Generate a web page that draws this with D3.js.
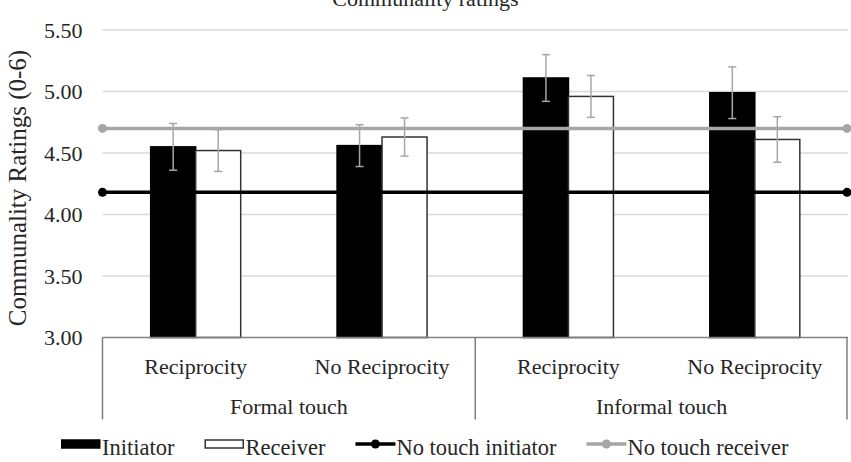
<!DOCTYPE html>
<html>
<head>
<meta charset="utf-8">
<script src="https://cdn.jsdelivr.net/npm/d3@7"></script>
<style>
  body { margin: 0; background: #fff; }
  text { font-family: "Liberation Serif", "Times New Roman", serif; fill: #262626; }
</style>
</head>
<body>
<div id="chart"></div>
<script>
// data
const subCategories = ["Reciprocity", "No Reciprocity", "Reciprocity", "No Reciprocity"];
const groups = ["Formal touch", "Informal touch"];
const initiator = [4.55, 4.56, 5.11, 4.99];
const receiver = [4.52, 4.63, 4.96, 4.61];
const initiatorErr = [0.19, 0.17, 0.19, 0.21];
const receiverErr = [0.17, 0.155, 0.17, 0.185];
const noTouchInitiator = 4.18;
const noTouchReceiver = 4.70;
const yTicks = [3.0, 3.5, 4.0, 4.5, 5.0, 5.5];
const seriesNames = ["Initiator", "Receiver", "No touch initiator", "No touch receiver"];

const width = 851, height = 462;
const margin = {top: 30, right: 3, bottom: 124.5, left: 102.5};

const svg = d3.select("#chart").append("svg")
    .attr("width", width)
    .attr("height", height);

const plotW = width - margin.left - margin.right;
const plotH = height - margin.top - margin.bottom;

const g = svg.append("g")
    .attr("transform", "translate(" + margin.left + "," + margin.top + ")");

// scales
const x = d3.scaleBand()
    .domain(d3.range(subCategories.length))
    .range([0, plotW]);

const xInner = d3.scaleBand()
    .domain(["Initiator", "Receiver"])
    .range([0, 90]);
const innerOffset = (x.bandwidth() - 90) / 2;

const y = d3.scaleLinear()
    .domain([3, 5.5])
    .range([plotH, 0]);

// gridlines
g.append("g")
    .selectAll("line")
    .data(yTicks.filter(d => d > 3))
    .join("line")
    .attr("x1", 0)
    .attr("x2", plotW)
    .attr("y1", d => y(d))
    .attr("y2", d => y(d))
    .attr("stroke", "#d9d9d9")
    .attr("stroke-width", 1.3);

// y axis labels
const yAxis = d3.axisLeft(y)
    .tickValues(yTicks)
    .tickFormat(d3.format(".2f"))
    .tickSize(0)
    .tickPadding(20);
g.append("g")
    .call(yAxis)
    .call(a => a.select(".domain").remove())
    .selectAll("text")
    .attr("font-size", 22)
    .attr("font-family", "Liberation Serif")
    .attr("fill", "#262626");

// bars
const barData = [];
subCategories.forEach((c, i) => {
    barData.push({i: i, s: "Initiator", v: initiator[i], e: initiatorErr[i]});
    barData.push({i: i, s: "Receiver", v: receiver[i], e: receiverErr[i]});
});

g.append("g")
    .selectAll("rect")
    .data(barData)
    .join("rect")
    .attr("x", d => x(d.i) + innerOffset + xInner(d.s))
    .attr("width", xInner.bandwidth())
    .attr("y", d => y(d.v))
    .attr("height", d => y(3) - y(d.v))
    .attr("fill", d => d.s === "Initiator" ? "#000" : "#fff")
    .attr("stroke", d => d.s === "Initiator" ? "#000" : "#333")
    .attr("stroke-width", 1.5);

// no-touch reference lines
const xLine = d3.scaleLinear().domain([0, 1]).range([0, plotW - 1]);
const refLines = [
    {name: "No touch initiator", v: noTouchInitiator, color: "#000"},
    {name: "No touch receiver", v: noTouchReceiver, color: "#a6a6a6"}
];
refLines.forEach(r => {
    const pts = [[0, r.v], [1, r.v]];
    g.append("path")
        .datum(pts)
        .attr("fill", "none")
        .attr("stroke", r.color)
        .attr("stroke-width", 3.5)
        .attr("d", d3.line().x(d => xLine(d[0])).y(d => y(d[1])));
    g.append("g")
        .selectAll("circle")
        .data(pts)
        .join("circle")
        .attr("cx", d => xLine(d[0]))
        .attr("cy", d => y(d[1]))
        .attr("r", 4.5)
        .attr("fill", r.color);
});

// error bars
const eb = g.append("g")
    .selectAll("g")
    .data(barData)
    .join("g")
    .attr("transform", d => "translate(" + (x(d.i) + innerOffset + xInner(d.s) + xInner.bandwidth() / 2) + ",0)");
eb.append("line")
    .attr("y1", d => y(d.v + d.e))
    .attr("y2", d => y(d.v - d.e))
    .attr("stroke", "#a6a6a6")
    .attr("stroke-width", 1.5);
eb.selectAll(".cap")
    .data(d => [d.v + d.e, d.v - d.e])
    .join("line")
    .attr("class", "cap")
    .attr("x1", -4)
    .attr("x2", 4)
    .attr("y1", d => y(d))
    .attr("y2", d => y(d))
    .attr("stroke", "#a6a6a6")
    .attr("stroke-width", 1.5);

// category axis (two-level)
const axisG = g.append("g").attr("transform", "translate(0," + plotH + ")");
axisG.append("line")
    .attr("x1", 0).attr("x2", plotW)
    .attr("stroke", "#808080").attr("stroke-width", 1.5);

const groupW = plotW / groups.length;
axisG.selectAll(".sep")
    .data(d3.range(groups.length + 1))
    .join("line")
    .attr("class", "sep")
    .attr("x1", d => Math.min(d * groupW, plotW - 1))
    .attr("x2", d => Math.min(d * groupW, plotW - 1))
    .attr("y1", 0)
    .attr("y2", 82)
    .attr("stroke", "#808080")
    .attr("stroke-width", 1.5);

axisG.selectAll(".sub")
    .data(subCategories)
    .join("text")
    .attr("class", "sub")
    .attr("x", (d, i) => x(i) + x.bandwidth() / 2)
    .attr("y", 36)
    .attr("text-anchor", "middle")
    .attr("font-size", 22)
    .text(d => d);

axisG.selectAll(".grp")
    .data(groups)
    .join("text")
    .attr("class", "grp")
    .attr("x", (d, i) => (i + 0.5) * groupW)
    .attr("y", 76)
    .attr("text-anchor", "middle")
    .attr("font-size", 22)
    .text(d => d);

// y axis title
svg.append("text")
    .attr("transform", "translate(26,188) rotate(-90)")
    .attr("text-anchor", "middle")
    .attr("font-size", 25)
    .text("Communality Ratings (0-6)");

// chart title (partly cut off at the top, as in the source)
svg.append("text")
    .attr("x", width / 2)
    .attr("y", 6)
    .attr("text-anchor", "middle")
    .attr("font-size", 22)
    .text("Communality ratings");

// legend
const legend = svg.append("g").attr("transform", "translate(61,444)");
let lx = 0;
seriesNames.forEach((name, k) => {
    const item = legend.append("g").attr("transform", "translate(" + lx + ",0)");
    if (k < 2) {
        item.append("rect")
            .attr("x", 0.75).attr("y", -4)
            .attr("width", 38).attr("height", 8)
            .attr("fill", k === 0 ? "#000" : "#fff")
            .attr("stroke", k === 0 ? "#000" : "#333")
            .attr("stroke-width", 1.5);
    } else {
        const col = refLines[k - 2].color;
        item.append("line")
            .attr("x1", 0).attr("x2", 40)
            .attr("stroke", col).attr("stroke-width", 3.5);
        item.append("circle")
            .attr("cx", 20).attr("r", 4.5).attr("fill", col);
    }
    const t = item.append("text")
        .attr("x", 41)
        .attr("y", 11)
        .attr("font-size", 22.5)
        .text(name);
    lx += 41 + t.node().getComputedTextLength() + 30;
});
</script>
</body>
</html>
